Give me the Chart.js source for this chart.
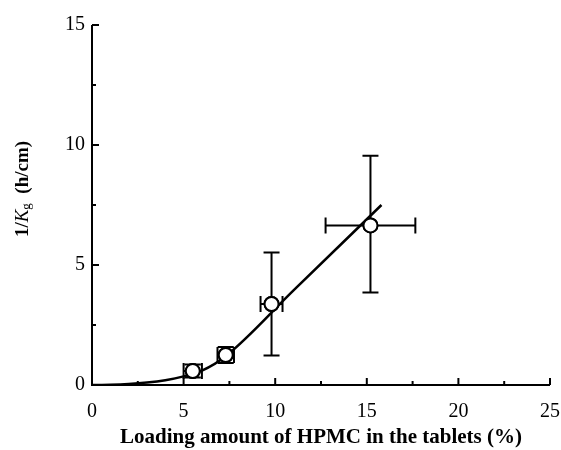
<!DOCTYPE html>
<html><head><meta charset="utf-8">
<script src="https://cdn.jsdelivr.net/npm/chart.js@4/dist/chart.umd.min.js"></script>
<style>html,body{margin:0;padding:0;background:#fff}#wrap{width:561px;height:450px}</style>
</head><body><div id="wrap"><canvas id="c" width="561" height="450"></canvas></div>
<script>
// Measured points: HPMC loading (%) vs 1/Kg (h/cm)
const loadingX = [5.5, 7.3, 9.8, 15.2];
const invKg = [0.58, 1.25, 3.375, 6.65];
const xErr = [0.5, 0.45, 0.6, 2.45];
const yErrLow = [0.27, 0.33, 2.15, 2.8];
const yErrHigh = [0.27, 0.33, 2.15, 2.9];
// Fitted curve
const fitX = [0, 1, 2, 3, 4, 5, 6, 7.3, 11, 15.8];
const fitY = [0, 0.01, 0.04, 0.1, 0.2, 0.36, 0.6, 1.2, 3.94, 7.5];
const xTicks = [0, 5, 10, 15, 20, 25];
const yTicks = [0, 5, 10, 15];

const SERIF = '"Liberation Serif", "Times New Roman", serif';

const decorPlugin = {
  id: 'decor',
  afterDatasetsDraw(chart) {
    const ctx = chart.ctx, xs = chart.scales.x, ys = chart.scales.y;
    ctx.save();
    ctx.strokeStyle = '#000';
    ctx.lineWidth = 2;
    const a = chart.chartArea;
    ctx.beginPath();
    ctx.moveTo(a.left, a.top); ctx.lineTo(a.left, a.bottom); ctx.lineTo(a.right, a.bottom);
    ctx.stroke();
    for (let v = 0; v <= 25; v += 2.5) {
      const px = xs.getPixelForValue(v);
      const len = (v % 5 === 0) ? 7 : 4;
      ctx.beginPath(); ctx.moveTo(px, a.bottom); ctx.lineTo(px, a.bottom - len); ctx.stroke();
    }
    for (let v = 0; v <= 15; v += 2.5) {
      const py = ys.getPixelForValue(v);
      const len = (v % 5 === 0) ? 7 : 4;
      ctx.beginPath(); ctx.moveTo(a.left, py); ctx.lineTo(a.left + len, py); ctx.stroke();
    }
    ctx.restore();
  }
};

const errorBarPlugin = {
  id: 'errbars',
  afterDatasetsDraw(chart) {
    const ctx = chart.ctx, xs = chart.scales.x, ys = chart.scales.y;
    const cap = 8;
    ctx.save();
    ctx.strokeStyle = '#000';
    ctx.lineWidth = 2;
    for (let i = 0; i < loadingX.length; i++) {
      const cx = xs.getPixelForValue(loadingX[i]);
      const cy = ys.getPixelForValue(invKg[i]);
      const x0 = xs.getPixelForValue(loadingX[i] - xErr[i]);
      const x1 = xs.getPixelForValue(loadingX[i] + xErr[i]);
      const y0 = ys.getPixelForValue(invKg[i] - yErrLow[i]);
      const y1 = ys.getPixelForValue(invKg[i] + yErrHigh[i]);
      ctx.beginPath();
      ctx.moveTo(x0, cy); ctx.lineTo(x1, cy);
      ctx.moveTo(x0, cy - cap); ctx.lineTo(x0, cy + cap);
      ctx.moveTo(x1, cy - cap); ctx.lineTo(x1, cy + cap);
      ctx.moveTo(cx, y0); ctx.lineTo(cx, y1);
      ctx.moveTo(cx - cap, y0); ctx.lineTo(cx + cap, y0);
      ctx.moveTo(cx - cap, y1); ctx.lineTo(cx + cap, y1);
      ctx.stroke();
      ctx.beginPath();
      ctx.arc(cx, cy, 7, 0, Math.PI * 2);
      ctx.fillStyle = '#fff'; ctx.fill(); ctx.stroke();
    }
    ctx.restore();
  }
};

const yTitlePlugin = {
  id: 'ytitle',
  afterDraw(chart) {
    const ctx = chart.ctx;
    ctx.save();
    ctx.translate(23, 189);
    ctx.rotate(-Math.PI / 2);
    ctx.fillStyle = '#000';
    ctx.textBaseline = 'middle';
    const parts = [
      { t: '1/', f: 'bold 19px ' + SERIF, dy: 0 },
      { t: 'K', f: 'italic 19px ' + SERIF, dy: 0 },
      { t: 'g', f: '13px ' + SERIF, dy: 4 },
      { t: '  (h/cm)', f: 'bold 19px ' + SERIF, dy: 0 }
    ];
    let total = 0;
    parts.forEach(p => { ctx.font = p.f; p.w = ctx.measureText(p.t).width; total += p.w; });
    let x = -total / 2;
    parts.forEach(p => { ctx.font = p.f; ctx.fillText(p.t, x, p.dy); x += p.w; });
    ctx.restore();
  }
};

new Chart(document.getElementById('c'), {
  type: 'scatter',
  data: {
    datasets: [
      {
        type: 'line',
        data: fitX.map((x, i) => ({ x, y: fitY[i] })),
        borderColor: '#000', borderWidth: 2.5, pointRadius: 0,
        cubicInterpolationMode: 'monotone', fill: false, order: 2
      },
      {
        data: loadingX.map((x, i) => ({ x, y: invKg[i] })),
        pointRadius: 7, pointBackgroundColor: '#fff', pointBorderColor: '#000',
        pointBorderWidth: 2, order: 1
      }
    ]
  },
  options: {
    responsive: false, animation: false,
    layout: { padding: { left: 0, top: 25, right: 11, bottom: 0 } },
    plugins: { legend: { display: false }, tooltip: { enabled: false } },
    scales: {
      x: {
        type: 'linear', min: 0, max: 25,
        afterBuildTicks: s => { s.ticks = xTicks.map(v => ({ value: v })); },
        afterFit: s => { s.height = 65; s.paddingLeft = 0; s.paddingRight = 0; },
        grid: { display: false, drawTicks: false },
        border: { display: false },
        ticks: { color: '#000', padding: 15, maxRotation: 0, font: { family: SERIF, size: 20 } },
        title: { display: true, text: 'Loading amount of HPMC in the tablets (%)', color: '#000',
                 font: { family: SERIF, size: 21, weight: 'bold' }, padding: { top: 2, bottom: 0 } }
      },
      y: {
        type: 'linear', min: 0, max: 15,
        afterBuildTicks: s => { s.ticks = yTicks.map(v => ({ value: v })); },
        afterFit: s => { s.width = 92; },
        grid: { display: false, drawTicks: false },
        border: { display: false },
        ticks: { color: '#000', padding: 7, font: { family: SERIF, size: 20 } }
      }
    }
  },
  plugins: [decorPlugin, errorBarPlugin, yTitlePlugin]
});
</script></body></html>
